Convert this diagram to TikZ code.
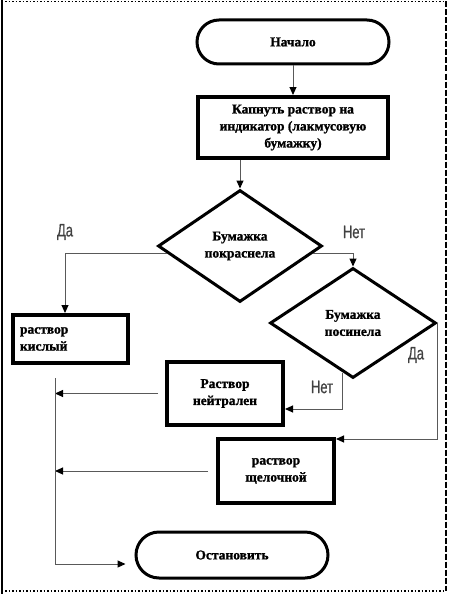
\documentclass[tikz,border=0pt]{standalone}
\usepackage{fontspec}
\setmainfont{Liberation Serif}
\newfontfamily\boxfont[FakeBold=1.2]{Liberation Serif Bold}
\newfontfamily\lblfont[FakeStretch=0.72,FakeBold=0.6]{Liberation Sans}
\usetikzlibrary{shapes.geometric,arrows.meta,calc}
\tikzset{
  term/.style={draw,line width=3pt,rounded corners=22pt,minimum width=192pt,minimum height=44pt,inner sep=0pt,
    font=\boxfont\fontsize{13.5}{17}\selectfont,align=center},
  procbox/.style={draw,line width=4pt,inner sep=0pt,font=\boxfont\fontsize{13.5}{17}\selectfont,align=center},
  dec/.style={draw,diamond,line width=3pt,inner sep=0pt,font=\boxfont\fontsize{13.5}{17}\selectfont,align=center},
  arr/.style={draw=black!65,line width=1pt,-{Triangle[length=8pt,width=7pt,color=black]}},
  lbl/.style={font=\lblfont\fontsize{18}{20}\selectfont,text=black!75,inner sep=0pt}
}
\begin{document}
\begin{tikzpicture}[x=1pt,y=-1pt]
\useasboundingbox (0,0) rectangle (449,594);
% frame
\draw[line width=2pt] (1.5,0) -- (1.5,594);
\draw[line width=1.5pt,dotted] (1.5,1.5) -- (446,1.5);
\draw[line width=1.5pt,dotted] (1.5,591) -- (446,591);
\draw[line width=2pt,dash pattern=on 6pt off 2pt] (446,1.5) -- (446,591);

% nodes
\node[term] (start) at (293,42) {Начало};
\node[procbox,minimum width=190pt,minimum height=61pt] (drip) at (293,127.5)
  {Капнуть раствор на\\индикатор (лакмусовую\\бумажку)};
\node[dec,minimum width=164pt,minimum height=112pt] (d1) at (240,246) {Бумажка\\покраснела};
\node[dec,minimum width=166pt,minimum height=110pt] (d2) at (353,323) {Бумажка\\посинела};
\node[procbox,minimum width=115pt,minimum height=48pt,align=left,text width=101pt] (acid) at (70.5,339)
  {раствор\\кислый};
\node[procbox,minimum width=116pt,minimum height=63pt] (neut) at (225,393.5) {Раствор\\нейтрален};
\node[procbox,minimum width=116pt,minimum height=64pt] (alk) at (276,471) {раствор\\щелочной};
\node[term,minimum width=192pt,minimum height=46pt,rounded corners=23pt] (stop) at (232,555) {Остановить};

% labels
\node[lbl] (lda1) at (65,232) {Да};
\node[lbl] (lnet1) at (354,232) {Нет};
\node[lbl] (lda2) at (416,355) {Да};
\node[lbl] (lnet2) at (322,387) {Нет};

% helper coordinates
\coordinate (p1) at ($(d1.west)!0.125!(d1.south)$);
\coordinate (p2) at ($(d1.east)!0.125!(d1.south)$);
\coordinate (p3) at ($(d2.west)!0.88!(d2.south)$);
\coordinate (ctop) at (55,378);
\coordinate (cbot) at (55,564);

% connectors
\draw[arr] (start.south) -- (drip.north);
\draw[arr] (d1.north |- drip.south) -- (d1.north);
\draw[arr] (p1) -| ([xshift=-5.5pt]acid.north);
\draw[arr] (p2) -| (d2.north);
\draw[arr] (d2.east) |- ([yshift=-2pt]alk.north east);
\draw[arr] (p3) |- ([yshift=-15.5pt]neut.east);
\draw[arr,shorten <=7pt] (neut.west) -- (neut.west -| ctop);
\draw[arr,shorten <=8pt] (alk.west) -- (alk.west -| ctop);
\draw[arr,shorten >=9pt] (ctop) -- (cbot) -- (cbot -| stop.west);
\end{tikzpicture}
\end{document}
